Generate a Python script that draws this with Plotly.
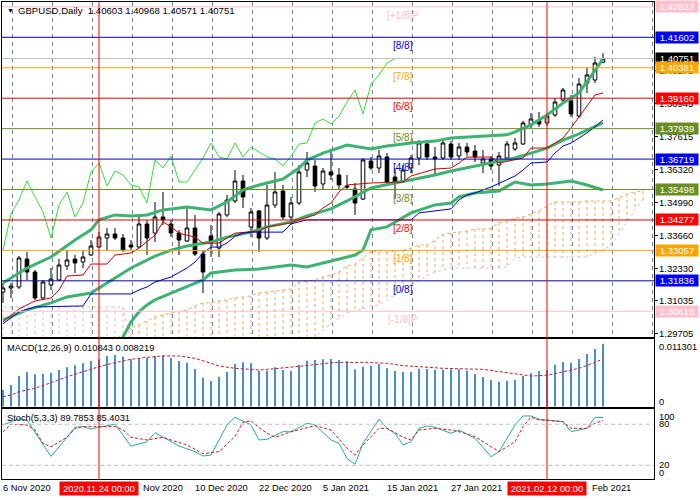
import plotly.graph_objects as go

# ---------------- data ----------------
bar_idx = list(range(76))
opens = [1.31389,1.31549,1.31589,1.32712,1.32191,1.31149,1.31670,1.31870,1.32431,1.32712,
         1.32592,1.32873,1.33193,1.33554,1.33715,1.33554,1.33273,1.33193,1.34116,1.33755,
         1.34396,1.34116,1.33755,1.33434,1.33955,1.32913,1.33634,1.33153,1.34477,1.35038,
         1.35840,1.33995,1.34637,1.33554,1.34877,1.35439,1.34396,1.34958,1.36281,1.36441,
         1.35720,1.36201,1.36080,1.35640,1.35519,1.35118,1.36642,1.36361,1.36802,1.36000,
         1.35800,1.36361,1.36762,1.37324,1.36802,1.36762,1.37324,1.36842,1.37203,1.37043,
         1.36562,1.36722,1.36481,1.36762,1.37123,1.37324,1.38086,1.38286,1.38166,1.38487,
         1.39088,1.39048,1.38446,1.39770,1.39890,1.40603]
highs = [1.31750,1.31750,1.32832,1.32993,1.32271,1.31870,1.32351,1.32712,1.33073,1.32873,
         1.33073,1.33474,1.33795,1.33955,1.33955,1.33715,1.33474,1.34396,1.34276,1.34998,
         1.35399,1.34276,1.33875,1.34757,1.34477,1.33073,1.34075,1.34597,1.35278,1.36281,
         1.36080,1.34757,1.34677,1.35680,1.36201,1.35680,1.35198,1.36481,1.37003,1.36682,
         1.36361,1.37083,1.36361,1.36080,1.35760,1.36762,1.36802,1.37083,1.36963,1.36361,
         1.36481,1.36883,1.37484,1.37484,1.37203,1.37484,1.37444,1.37364,1.37364,1.37284,
         1.37083,1.36842,1.37003,1.37444,1.37564,1.38246,1.38567,1.38607,1.38567,1.39168,
         1.39569,1.39289,1.39970,1.40371,1.40812,1.40968]
lows = [1.30948,1.31149,1.31509,1.31870,1.31068,1.31109,1.31469,1.31830,1.32271,1.32151,
        1.32351,1.32832,1.33153,1.33033,1.33474,1.32993,1.33073,1.33153,1.32873,1.33394,
        1.34075,1.33594,1.32873,1.33394,1.32832,1.31349,1.32792,1.32792,1.34396,1.34958,
        1.34757,1.33594,1.32993,1.33474,1.34757,1.34276,1.34075,1.34877,1.36000,1.35399,
        1.35479,1.35880,1.35479,1.35479,1.34477,1.35078,1.36281,1.36161,1.35720,1.35118,
        1.35760,1.36201,1.36481,1.36682,1.36080,1.36682,1.36682,1.36682,1.36842,1.36602,
        1.36161,1.36281,1.35640,1.36682,1.37043,1.37284,1.37965,1.38005,1.38045,1.38406,
        1.39008,1.38406,1.38366,1.39369,1.39770,1.40571]
closes = [1.31549,1.31629,1.32752,1.32191,1.31149,1.31790,1.31910,1.32471,1.32672,1.32552,
          1.32792,1.33233,1.33594,1.33715,1.33554,1.33073,1.33193,1.34116,1.33554,1.34396,
          1.34276,1.33755,1.33474,1.33955,1.32913,1.32191,1.33354,1.34517,1.35078,1.35840,
          1.35198,1.34597,1.33554,1.34877,1.35399,1.34396,1.34958,1.36201,1.36562,1.35640,
          1.36241,1.36080,1.35680,1.35599,1.34958,1.36682,1.36361,1.36842,1.35800,1.35800,
          1.36281,1.36762,1.37364,1.36802,1.36722,1.37364,1.36802,1.37203,1.37003,1.36802,
          1.36722,1.36441,1.36842,1.37324,1.37364,1.38166,1.38326,1.38126,1.38446,1.39008,
          1.39489,1.38527,1.39730,1.40091,1.40572,1.40751]

# visible time-scale texts (others are hidden under the red time boxes)
date_pos = [0, 17.5, 24, 32, 40, 48, 56, 73.6]
date_labels = ["6 Nov 2020", "Nov 2020", "10 Dec 2020", "22 Dec 2020",
               "5 Jan 2021", "15 Jan 2021", "27 Jan 2021", "Feb 2021"]

vline_idx = [12, 68]
vline_labels = ["2020.11.24 00:00", "2021.02.12 00:00"]

murrey_levels = [1.42822, 1.41602, 1.40381, 1.39160, 1.37939, 1.36719,
                 1.35498, 1.34277, 1.33057, 1.31836, 1.30615]
murrey_names = ["[+1/8]P", "[8/8]", "[7/8]", "[6/8]", "[5/8]", "[4/8]",
                "[3/8]", "[2/8]", "[1/8]", "[0/8]", "[-1/8]P"]
murrey_line_colors = ["#ffc0cb", "#0000b4", "#ffa500", "#e00000", "#6b8e23", "#0000b4",
                      "#6b8e23", "#e00000", "#ffa500", "#0000b4", "#ffc0cb"]
murrey_box_colors = ["#ffc0cb", "#0000ff", "#ffa500", "#ff0000", "#6b8e23", "#0000ff",
                     "#6b8e23", "#ff0000", "#ffa500", "#0000ff", "#ffc0cb"]
price_ticks = [1.40275, 1.38945, 1.37615, 1.36320, 1.34990, 1.33660, 1.32330, 1.31035, 1.29705]
last_price = 1.40751
header_text = "GBPUSD,Daily  1.40603 1.40968 1.40571 1.40751"

bb_up_idx = [0,3,6,9,11,12,14,16,18,20,23,25,26,28,30,32,35,37,38,40,42,43,46,48,51,54,56,60,63,64,66,68,70,72,73,74,75]
bb_up = [1.3175,1.3235,1.3279,1.3347,1.3388,1.3428,1.3448,1.3444,1.3448,1.3468,1.3480,1.3472,1.3468,1.3500,
         1.3548,1.3568,1.3592,1.3636,1.3668,1.3696,1.3716,1.3728,1.3712,1.3724,1.3736,1.3744,1.3756,1.3764,
         1.3769,1.3781,1.3809,1.3849,1.3897,1.3937,1.3981,1.4029,1.4073]
bb_mid_idx = [0,3,6,8,11,13,16,19,21,23,26,28,31,33,36,38,41,43,46,49,51,54,56,59,61,64,66,68,70,72,75]
bb_mid = [1.3027,1.3067,1.3095,1.3119,1.3135,1.3175,1.3235,1.3283,1.3307,1.3323,1.3339,1.3359,1.3379,1.3400,
          1.3420,1.3444,1.3472,1.3504,1.3556,1.3576,1.3588,1.3608,1.3624,1.3644,1.3656,1.3676,1.3696,1.3716,
          1.3748,1.3773,1.3817]
bb_low_idx = [13,15,16,17,18,19,22,25,26,29,32,36,38,40,42,44,45,46,48,51,54,56,57,59,62,64,66,68,71,73,75]
bb_low = [1.2866,1.2958,1.3019,1.3059,1.3087,1.3107,1.3147,1.3187,1.3215,1.3227,1.3231,1.3247,1.3239,1.3255,
          1.3271,1.3287,1.3307,1.3388,1.3400,1.3456,1.3488,1.3496,1.3520,1.3536,1.3544,1.3580,1.3568,1.3572,
          1.3584,1.3568,1.3548]

tenkan_idx = [0,2,4,6,7,8,10,11,13,14,16,17,19,20,21,22,24,25,27,28,29,32,33,36,37,39,40,41,42,43,46,50,51,
              54,56,57,58,61,62,65,66,68,70,71,72,73,74,75]
tenkan = [1.3019,1.3071,1.3103,1.3115,1.3147,1.3203,1.3207,1.3251,1.3251,1.3287,1.3295,1.3315,1.3367,1.3420,
          1.3400,1.3375,1.3359,1.3335,1.3335,1.3355,1.3375,1.3383,1.3400,1.3416,1.3428,1.3448,1.3476,1.3496,
          1.3540,1.3568,1.3576,1.3580,1.3604,1.3632,1.3636,1.3656,1.3680,1.3680,1.3656,1.3676,1.3716,1.3716,
          1.3756,1.3797,1.3841,1.3889,1.3929,1.3937]
kijun_idx = [0,2,4,10,11,16,17,18,19,21,23,24,25,26,27,28,29,30,31,35,36,37,38,51,52,56,57,58,59,61,63,64,
             65,66,68,69,70,71,73,74,75]
kijun = [1.3011,1.3059,1.3079,1.3083,1.3131,1.3131,1.3147,1.3159,1.3179,1.3199,1.3235,1.3259,1.3295,1.3319,
         1.3319,1.3335,1.3363,1.3375,1.3379,1.3379,1.3412,1.3420,1.3428,1.3428,1.3456,1.3472,1.3508,1.3528,
         1.3536,1.3560,1.3588,1.3604,1.3628,1.3656,1.3660,1.3696,1.3724,1.3736,1.3777,1.3801,1.3829]
chikou = [1.3307,1.34517,1.35078,1.35840,1.35198,1.34597,1.33554,1.34877,1.35399,1.34396,
          1.34958,1.36201,1.36562,1.35640,1.36241,1.36080,1.35680,1.35599,1.34958,1.36682,
          1.36361,1.36842,1.35800,1.35800,1.36281,1.36762,1.37364,1.36802,1.36722,1.37364,
          1.36802,1.37203,1.37003,1.36802,1.36722,1.36441,1.36842,1.37324,1.37364,1.38166,
          1.38326,1.38126,1.38446,1.39008,1.39489,1.38527,1.39730,1.40091,1.40572,1.40751]
span_a = [1.2818,1.2826,1.2834,1.2842,1.2850,1.2858,1.2866,1.2874,1.2882,1.2890,1.2902,1.2914,1.2926,1.2938,
          1.2950,1.2970,1.2995,1.3007,1.3023,1.3039,1.3047,1.3055,1.3059,1.3067,1.3083,1.3095,
          1.3095,1.3103,1.3107,1.3115,1.3119,1.3123,1.3135,1.3139,1.3143,1.3147,1.3151,1.3179,1.3183,1.3187,
          1.3199,1.3207,1.3219,1.3243,1.3251,1.3275,1.3303,1.3299,1.3299,1.3303,1.3307,1.3315,1.3327,1.3327,
          1.3347,1.3371,1.3375,1.3379,1.3383,1.3391,1.3391,1.3395,1.3416,1.3424,1.3436,1.3440,1.3452,1.3464,
          1.3484,1.3500,1.3500,1.3500,1.3500,1.3504,1.3504,1.3504,1.3504,1.3516,1.3532,1.3540,1.3544]
span_b = [1.3079,1.3079,1.3079,1.3079,1.3079,1.3079,1.3079,1.3079,1.3079,1.3079,1.3079,1.3079,1.3079,1.3079,
          1.3079,1.3079,
          1.2930,1.2930,1.2930,1.2930,1.2930,1.2930,1.2930,1.2930,1.2930,1.2930,1.2930,1.2930,1.2930,1.2930,
          1.2930,1.2930,1.2930,1.2930,1.2930,1.2930,1.2930,1.2930,1.2930,
          1.2958,1.2987,1.3011,1.3035,1.3055,1.3063,1.3071,1.3083,1.3087,1.3107,1.3127,1.3147,1.3167,1.3187,
          1.3203,1.3219,1.3227,
          1.3235,1.3235,1.3235,1.3235,1.3235,1.3235,1.3235,1.3239,1.3275,
          1.3279,1.3279,1.3279,1.3279,1.3279,1.3279,1.3279,1.3279,1.3279,
          1.3295,1.3307,1.3327,1.3375,1.3424,1.3468,1.3508]

macd_hist = [0.00285,0.00371,0.00526,0.00590,0.00555,0.00561,0.00583,0.00630,0.00676,0.00711,
             0.00745,0.00785,0.00814,0.00871,0.00888,0.00859,0.00814,0.00831,0.00842,0.00871,
             0.00883,0.00837,0.00785,0.00756,0.00647,0.00497,0.00440,0.00514,0.00595,0.00733,
             0.00762,0.00745,0.00618,0.00618,0.00676,0.00630,0.00618,0.00716,0.00790,0.00802,
             0.00814,0.00820,0.00802,0.00780,0.00641,0.00687,0.00704,0.00733,0.00658,0.00612,
             0.00595,0.00600,0.00652,0.00647,0.00635,0.00635,0.00641,0.00641,0.00618,0.00561,
             0.00509,0.00457,0.00428,0.00445,0.00457,0.00526,0.00572,0.00612,0.00630,0.00721,
             0.00768,0.00756,0.00820,0.00906,0.00992,0.010843]
macd_sig_idx = [0,1,2,4,6,8,10,12,14,16,18,20,22,24,26,27,29,31,32,34,36,37,39,41,43,45,48,50,52,55,60,62,
                64,66,68,70,72,74,75]
macd_sig = [0.00169,0.00198,0.00255,0.00314,0.00411,0.00514,0.00600,0.00687,0.00756,0.00814,0.00849,0.00871,
            0.00871,0.00831,0.00745,0.00699,0.00659,0.00641,0.00630,0.00652,0.00676,0.00699,0.00721,0.00756,
            0.00755,0.00762,0.00745,0.00704,0.00687,0.00659,0.00641,0.00600,0.00555,0.00526,0.00538,0.00600,
            0.00659,0.00760,0.008219]
macd_max_label = "0.011301"

stoch_k_idx = [0,2,3,6,8,9,10,11,12,14,16,18,19,20,22,24,25,26,28,29,31,32,33,35,36,38,39,41,42,43,44,45,47,
               48,49,50,51,52,53,54,56,57,59,61,62,64,65,66,67,68,70,71,72,73,74,75]
stoch_k = [79,88,86,33,61,75.6,76.5,73,75.6,80,48,54.5,67.7,61,48.2,40,33.6,35.1,79,90.2,79,57,58,69.2,69,
           81.4,79,57,52.2,30.2,21.5,52.2,87.3,74.1,66.8,49.7,54.5,74.1,77.5,75.6,66.8,71.6,59.5,32.6,39.9,
           79,92.1,92.1,87.3,86.3,83.8,69.2,71.6,74.1,90.2,89.7853]
stoch_d_idx = [0,1,3,4,5,6,8,9,10,12,14,15,16,18,20,21,23,25,27,29,30,31,32,33,34,36,39,41,43,44,45,47,48,
               50,51,52,54,56,57,59,61,62,64,65,66,67,70,71,73,74,75]
stoch_d = [69,80,79,71.6,52,47,61,74,76.5,76.5,76.5,71.6,61,57,61,57,49.7,37,40,62,83,85,75,66.8,61,69,78,
           71.6,45,35,49.7,74.1,74.1,61,57,71.6,74.1,71.6,69.2,62,47,40,54.5,76.5,90.2,86.3,83.8,74.1,74.1,
           81.4,85.4031]

# ---------------- geometry helpers (panel layout in pixels) ----------------
W, H = 700, 500
def px(x):
    return x / W
def py(y):
    return 1 - y / H

FONT = "Liberation Sans, Arial, sans-serif"
X_RANGE = [-0.125, 81.375]

fig = go.Figure()

# cloud hatching
hx_up, hy_up, hx_dn, hy_dn = [], [], [], []
for i, (a, b) in enumerate(zip(span_a, span_b)):
    if a >= b:
        hx_up += [i, i, None]; hy_up += [a, b, None]
    else:
        hx_dn += [i, i, None]; hy_dn += [a, b, None]
fig.add_trace(go.Scatter(x=hx_up, y=hy_up, mode="lines", line=dict(color="#f4a460", width=1, dash="3px,3px"),
                         hoverinfo="skip", xaxis="x", yaxis="y"))
fig.add_trace(go.Scatter(x=hx_dn, y=hy_dn, mode="lines", line=dict(color="#d8bfd8", width=1, dash="3px,3px"),
                         hoverinfo="skip", xaxis="x", yaxis="y"))
fig.add_trace(go.Scatter(x=list(range(len(span_a))), y=span_a, mode="lines",
                         line=dict(color="#f4a460", width=1, dash="3px,3px"), hoverinfo="skip", xaxis="x", yaxis="y"))
fig.add_trace(go.Scatter(x=list(range(len(span_b))), y=span_b, mode="lines",
                         line=dict(color="#d8bfd8", width=1, dash="3px,3px"), hoverinfo="skip", xaxis="x", yaxis="y"))

# candles
fig.add_trace(go.Candlestick(x=bar_idx, open=opens, high=highs, low=lows, close=closes,
                             increasing=dict(line=dict(color="black", width=1), fillcolor="white"),
                             decreasing=dict(line=dict(color="black", width=1), fillcolor="black"),
                             whiskerwidth=0, hoverinfo="skip", xaxis="x", yaxis="y"))

# Bollinger bands
for xs, ys in [(bb_up_idx, bb_up), (bb_mid_idx, bb_mid), (bb_low_idx, bb_low)]:
    fig.add_trace(go.Scatter(x=xs, y=ys, mode="lines", line=dict(color="#3cb371", width=3),
                             hoverinfo="skip", xaxis="x", yaxis="y"))
# Ichimoku lines
fig.add_trace(go.Scatter(x=tenkan_idx, y=tenkan, mode="lines", line=dict(color="#d00000", width=1),
                         hoverinfo="skip", xaxis="x", yaxis="y"))
fig.add_trace(go.Scatter(x=kijun_idx, y=kijun, mode="lines", line=dict(color="#0000c8", width=1),
                         hoverinfo="skip", xaxis="x", yaxis="y"))
fig.add_trace(go.Scatter(x=list(range(len(chikou))), y=chikou, mode="lines", line=dict(color="#33e033", width=1),
                         hoverinfo="skip", xaxis="x", yaxis="y"))

# MACD
fig.add_trace(go.Bar(x=bar_idx, y=macd_hist, width=0.25, marker=dict(color="#4a8fcc", line=dict(width=0)),
                     hoverinfo="skip", xaxis="x2", yaxis="y2"))
fig.add_trace(go.Scatter(x=macd_sig_idx, y=macd_sig, mode="lines", line=dict(color="#c81e1e", width=1, dash="3px,2px"),
                         hoverinfo="skip", xaxis="x2", yaxis="y2"))
# Stochastic
fig.add_trace(go.Scatter(x=stoch_k_idx, y=stoch_k, mode="lines", line=dict(color="#2aa8a8", width=1),
                         hoverinfo="skip", xaxis="x3", yaxis="y3"))
fig.add_trace(go.Scatter(x=stoch_d_idx, y=stoch_d, mode="lines", line=dict(color="#d01818", width=1, dash="3px,2px"),
                         hoverinfo="skip", xaxis="x3", yaxis="y3"))

shapes = []
for lv, col in zip(murrey_levels, murrey_line_colors):
    shapes.append(dict(type="line", xref="paper", yref="y", x0=px(2), x1=px(654), y0=lv, y1=lv,
                       line=dict(color=col, width=1)))
shapes.append(dict(type="line", xref="paper", yref="y", x0=px(2), x1=px(654), y0=last_price, y1=last_price,
                   line=dict(color="#c0c0c0", width=1)))
for lv in [20, 80]:
    shapes.append(dict(type="line", xref="paper", yref="y3", x0=px(2), x1=px(654), y0=lv, y1=lv,
                       line=dict(color="#c0c0c0", width=1, dash="4px,3px")))
for vi in vline_idx:
    shapes.append(dict(type="line", xref="x", yref="paper", x0=vi, x1=vi, y0=py(479), y1=py(2),
                       line=dict(color="#ff0000", width=1)))

ann = []
ann.append(dict(text="▼", xref="paper", yref="paper", x=px(5), y=py(10), xanchor="left", yanchor="middle",
                showarrow=False, font=dict(family=FONT, size=7, color="black")))
ann.append(dict(text=header_text, xref="paper", yref="paper", x=px(16), y=py(10), xanchor="left", yanchor="middle",
                showarrow=False, font=dict(family=FONT, size=9.6, color="black")))
ann.append(dict(text="MACD(12,26,9) %.6f %.6f" % (macd_hist[-1], macd_sig[-1]), xref="paper", yref="paper",
                x=px(5), y=py(348), xanchor="left", yanchor="middle", showarrow=False,
                font=dict(family=FONT, size=9.3, color="black")))
ann.append(dict(text="Stoch(5,3,3) %.4f %.4f" % (stoch_k[-1], stoch_d[-1]), xref="paper", yref="paper",
                x=px(5), y=py(418), xanchor="left", yanchor="middle", showarrow=False,
                font=dict(family=FONT, size=9.3, color="black")))
for lv, nm, col in zip(murrey_levels, murrey_names, murrey_box_colors):
    ann.append(dict(text=nm, xref="x", yref="y", x=50, y=lv, xanchor="center", yanchor="top", yshift=-1,
                    showarrow=False, font=dict(family=FONT, size=10, color=col)))
for t in price_ticks:
    ann.append(dict(text="%.5f" % t, xref="paper", yref="y", x=px(657), y=t, xanchor="left", yanchor="middle",
                    showarrow=False, font=dict(family=FONT, size=9.5, color="black")))
ann.append(dict(text="%.5f" % last_price, xref="paper", yref="y", x=px(655), y=last_price, xanchor="left",
                yanchor="middle", showarrow=False, bgcolor="black", width=40, height=9, borderpad=1,
                font=dict(family=FONT, size=9.5, color="white")))
for lv, col in zip(murrey_levels, murrey_box_colors):
    ann.append(dict(text="%.5f" % lv, xref="paper", yref="y", x=px(655), y=lv, xanchor="left", yanchor="middle",
                    showarrow=False, bgcolor=col, width=40, height=9, borderpad=1,
                    font=dict(family=FONT, size=9.5, color="white")))
ann.append(dict(text=macd_max_label, xref="paper", yref="y2", x=px(657), y=float(macd_max_label), yshift=-6,
                xanchor="left", yanchor="middle", showarrow=False, font=dict(family=FONT, size=9.3, color="black")))
ann.append(dict(text="0", xref="paper", yref="y2", x=px(657), y=0, yshift=5, xanchor="left", yanchor="middle",
                showarrow=False, font=dict(family=FONT, size=9.3, color="black")))
for v, sh in [(100, -6), (80, 0), (20, 0), (0, 6)]:
    ann.append(dict(text=str(v), xref="paper", yref="y3", x=px(657), y=v, yshift=sh, xanchor="left",
                    yanchor="middle", showarrow=False, font=dict(family=FONT, size=9.3, color="black")))
for di, dl in zip(date_pos, date_labels):
    ann.append(dict(text=dl, xref="x3", yref="paper", x=di, y=py(488), xanchor="left", yanchor="middle",
                    xshift=-2, showarrow=False, font=dict(family=FONT, size=9.3, color="black")))
for vi, vl in zip(vline_idx, vline_labels):
    ann.append(dict(text=vl, xref="x3", yref="paper", x=vi, y=py(488), xanchor="center", yanchor="middle",
                    showarrow=False, bgcolor="#ff0000", borderpad=1, width=76, height=11,
                    font=dict(family=FONT, size=9.3, color="white")))

grid_vals = [1.125 + 5 * k for k in range(17)]
common_x = dict(range=X_RANGE, domain=[px(2), px(654)], showline=True, mirror=True, linecolor="black",
                linewidth=1, zeroline=False, showticklabels=False, fixedrange=True)
fig.update_layout(
    width=W, height=H, margin=dict(l=0, r=0, t=0, b=0),
    paper_bgcolor="white", plot_bgcolor="white", showlegend=False, boxgap=0.35,
    xaxis=dict(**common_x, anchor="y", tickvals=grid_vals, showgrid=True, gridcolor="#6f8497",
               griddash="4px,4px", gridwidth=1, ticks="", rangeslider=dict(visible=False)),
    yaxis=dict(domain=[py(337), py(2)], range=[1.29584, 1.43018], side="right", anchor="x",
               showline=True, mirror=True, linecolor="black", showgrid=False, zeroline=False,
               tickvals=price_ticks, ticks="outside", ticklen=3, tickcolor="black", showticklabels=False),
    xaxis2=dict(**common_x, anchor="y2", matches="x", showgrid=False, ticks=""),
    yaxis2=dict(domain=[py(407), py(339)], range=[-0.000086, 0.011644], anchor="x2", showline=True, mirror=True,
                linecolor="black", showgrid=False, zeroline=False, showticklabels=False, ticks=""),
    xaxis3=dict(**common_x, anchor="y3", matches="x", showgrid=False, ticks=""),
    yaxis3=dict(domain=[py(479), py(409)], range=[0, 102.3], anchor="x3", showline=True, mirror=True,
                linecolor="black", showgrid=False, zeroline=False, showticklabels=False, ticks=""),
    shapes=shapes, annotations=ann,
)
fig.write_html("out.html")
